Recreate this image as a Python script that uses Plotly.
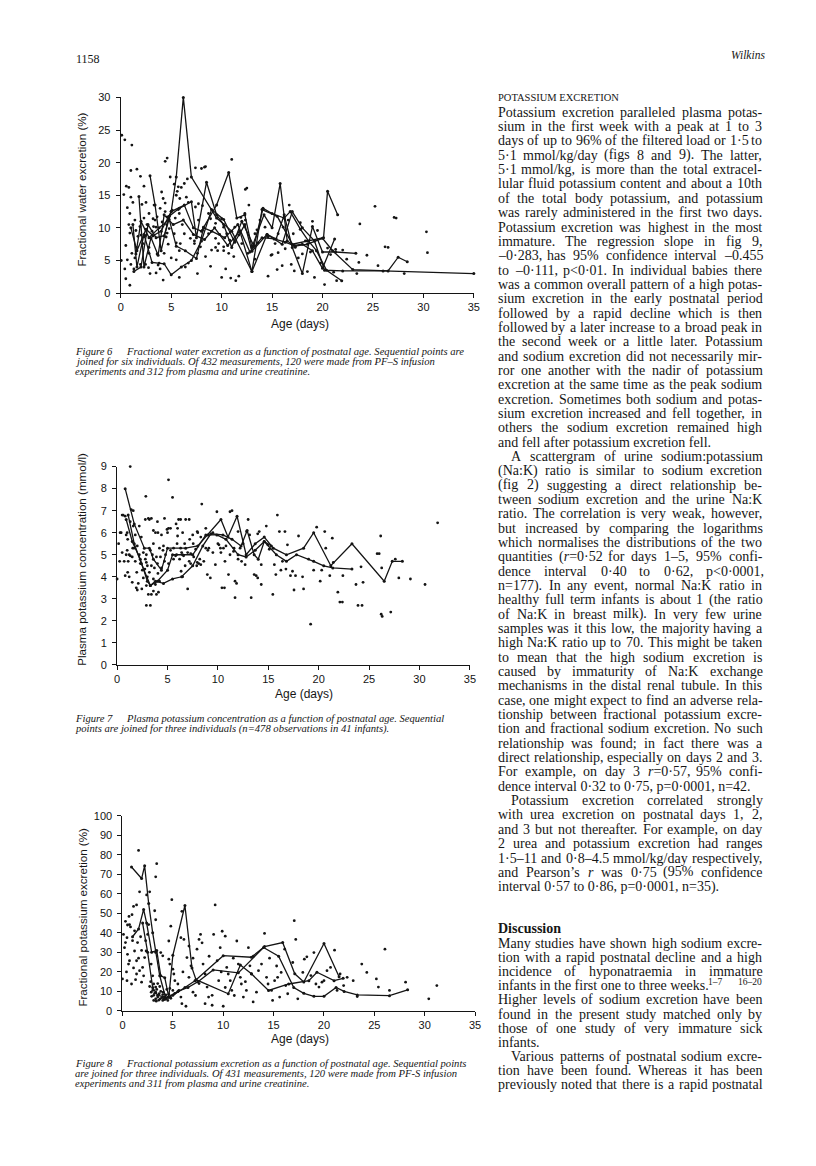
import re
import plotly.graph_objects as go

W, H = 816, 1166

# ---------------- DATA ----------------
# Figure 6: fractional water excretion (%) vs age (days)
fig6_points = [
    (0.1,24.2),(0.4,23.5),(1.1,22.7),(0.55,16.4),(0.3,15.1),(1.0,18.8),(1.6,19.0),(1.95,17.9),(2.3,16.4),
    (4.4,20.2),(4.6,20.7),(4.9,17.8),(7.4,19.2),(8.4,19.4),(11.0,20.5),(12.35,15.9),(12.5,16.1),(12.7,13.5),
    (16.7,13.5),(25.2,13.3),(23.7,10.6),(27.1,11.6),(27.3,11.5),(30.3,9.4),(30.4,6.2),(26.2,7.1),(26.5,7.0),
    (24.4,5.8),(23.6,4.7),(25.5,4.2),(23.4,3.0),(28.1,3.0),(22.4,5.2),(20.2,1.3),(21.1,3.2),(19.2,2.4),
    (18.5,3.3),(19.8,4.6),(20.8,5.9),(21.3,6.7),(21.4,1.9),(17.3,7.0),(17.2,3.4),(16.0,4.2),(15.5,3.6),
    (15.6,6.2),(14.9,5.8),(14.6,2.6),(13.6,7.7),(13.5,9.7),(13.3,5.2),(12.35,11.2),(11.4,1.9),(11.7,2.6),
    (10.9,2.3),(10.0,2.4),(10.4,3.7),(9.6,6.5),(9.4,7.0),(10.2,6.5),(8.9,4.1),(8.1,9.6),(7.9,7.1),(7.6,3.0),
    (7.3,8.0),(6.4,4.0),(6.7,4.6),(6.6,17.5),(6.3,16.8),(5.7,16.3),(5.85,14.5),(5.5,15.0),(5.7,12.8),
    (5.4,11.5),(5.3,9.1),(5.5,7.7),(5.8,6.5),(5.8,2.4),(5.0,5.4),(4.7,7.5),(4.6,9.2),(4.55,10.5),(4.4,12.5),
    (4.4,13.8),(4.2,14.5),(4.05,15.5),(3.9,13.0),(3.6,11.7),(3.4,11.2),(3.25,10.2),(3.1,9.5),(3.3,13.5),
    (3.6,6.0),(3.7,4.3),(3.9,3.7),(4.2,2.0),(2.9,3.0),(2.8,7.0),(2.6,10.5),(2.45,8.8),(2.3,11.5),(2.1,13.6),
    (1.9,10.2),(1.7,8.7),(1.55,7.0),(1.4,5.4),(1.3,3.7),(1.1,6.1),(0.9,9.2),(0.8,10.5),(0.65,13.1),(0.5,7.3),
    (0.4,3.7),(0.5,2.2),(0.9,1.2),(0.05,5.0),(0.65,5.1),(1.0,4.4),(1.95,4.4),(2.45,4.4),(2.75,3.9),
    (8.0,19.1),(8.3,19.3),(5.3,16.7),(5.6,15.6),(6.0,16.2),(6.5,14.7),(6.7,13.9),(7.4,13.2),(7.7,13.7),
    (8.1,13.4),(8.7,12.2),(8.9,11.4),(9.4,10.7),(10.0,11.4),(10.2,10.1),(10.5,9.1),(10.8,8.1),(11.3,10.1),
    (11.7,8.9),(12.0,7.6),(12.6,6.1),(13.3,9.1),(13.8,11.2),(14.3,10.1),(14.6,8.6),(15.0,5.9),(15.3,7.6),
    (15.6,9.1),(16.1,10.1),(16.6,11.2),(17.1,9.1),(6.9,8.4),(7.3,7.6),(5.9,7.6),(6.3,9.1),(4.8,9.9),(4.5,8.6),
    (4.3,6.1),(5.5,5.1),(3.8,4.6),(3.5,3.1),(2.8,6.1),(2.2,7.6),(2.0,8.9),(1.5,9.6),(1.4,11.2),(0.9,12.2),
    (1.2,13.9),(1.0,14.7),(0.8,16.2),(2.5,13.9),(2.8,12.2),(3.2,11.4),(3.5,10.1),(4.1,10.9),(4.6,11.7),
    (5.1,12.7),(5.8,12.2),(7.7,11.2),(8.2,10.1),(8.7,9.1),(9.4,8.4),(9.7,7.6),(10.2,7.1),(10.7,6.1),(11.2,5.6),
    (9.0,6.6),(8.4,5.6),(7.6,6.1),(17.8,10.8),(18.3,8.0),(18.8,6.3),(19.5,9.6),(19.0,11.0),(20.5,6.9),
    (17.6,5.4),(16.3,6.8),(22.0,6.6),(16.9,4.4),(18.0,6.0),(12.3,12.2),(11.9,11.6),(9.8,9.0),(6.1,10.5),
]
# six individuals joined (Figure 6)
fw1_x = [1.0,1.6,2.5,3.2,4.0,5.0,5.5,6.2,7.0,9.5,11.0,13.0,14.0,15.5,17.0,18.5,20.1,20.5,21.5]
fw1_y = [10.0,6.5,9.8,8.8,9.5,12.5,17.8,30.0,17.8,11.5,9.5,3.3,12.8,11.8,7.5,8.0,8.5,15.6,12.0]
fw2_x = [1.3,2.0,2.7,3.5,4.3,5.0,6.3,7.2,8.0,9.5,10.7,11.5,12.3,13.0,14.2,15.0,15.8,16.5,17.2,18.0,19.0,20.0,21.2]
fw2_y = [3.3,4.0,10.5,8.5,8.8,12.5,13.5,10.0,9.5,13.5,18.5,11.5,12.0,7.0,12.0,10.0,16.8,8.0,7.3,7.5,6.5,3.8,8.3]
fw3_x = [2.9,3.4,4.0,4.8,5.8,7.0,7.5,8.5,9.5,10.2,11.0,12.0,13.2,14.1,15.0,16.2,16.8,17.8,18.6,19.4,20.4,21.9]
fw3_y = [18.0,13.5,6.5,11.8,13.0,14.0,8.5,17.0,12.0,10.5,7.0,11.0,7.2,13.0,12.2,11.5,12.5,9.8,8.0,6.5,3.5,1.9]
fw4_x = [1.2,1.6,2.3,3.1,4.3,5.0,6.0,7.0,8.0,9.0,10.2,11.3,12.3,13.0,14.5,15.4,16.2,17.0,18.0,19.0,20.0,21.3,23.3]
fw4_y = [10.5,4.0,9.0,4.7,4.5,2.8,4.0,5.0,8.0,12.8,11.3,7.8,10.5,6.4,9.0,8.3,12.0,7.0,3.0,10.2,6.3,6.3,6.1]
fw5_x = [1.5,2.0,2.8,3.8,4.8,5.5,6.4,7.5,8.2,9.0,10.3,11.6,12.8,14.0,15.2,16.3,17.3,18.5,20.0,21.0,23.0,26.5,27.5,28.4]
fw5_y = [6.0,11.0,8.5,10.0,11.3,7.2,6.5,5.3,10.0,9.5,8.5,10.5,6.3,8.5,8.3,7.8,7.2,7.5,8.4,6.5,3.6,3.4,5.5,4.8]
fw6_x = [1.8,2.3,3.0,3.7,4.3,5.2,6.2,7.2,8.3,9.3,10.6,11.8,13.0,14.5,16.0,17.0,18.0,19.2,20.2,22.0,26.0,35.0]
fw6_y = [14.8,4.0,8.5,5.8,12.0,10.5,11.2,9.0,8.2,10.0,7.3,9.5,3.3,9.0,7.5,12.5,10.0,8.0,3.5,3.4,3.4,3.0]

# Figure 7: plasma potassium concentration (mmol/l) vs age (days)
fig7_points = [
    (1.3,9.0),(0.0,3.9),(0.15,5.5),(0.4,6.0),(0.6,6.8),(0.8,6.75),(1.0,6.0),(1.05,5.7),(0.9,5.0),(0.7,4.7),
    (0.5,5.1),(0.25,4.7),(1.1,4.7),(1.3,4.95),(1.05,4.2),(0.8,4.05),(1.5,3.75),(1.4,7.05),(1.6,6.3),(1.8,5.9),
    (1.55,5.3),(1.8,4.7),(1.95,4.2),(2.1,3.7),(1.9,3.5),(2.45,3.45),(2.6,3.95),(2.75,4.35),(2.9,4.65),(2.9,5.0),
    (3.1,6.65),(2.85,7.65),(3.4,6.65),(2.9,2.7),(3.3,2.7),(3.1,3.2),(3.6,3.35),(3.8,3.65),(3.9,3.2),(4.2,3.8),
    (4.05,4.15),(4.4,4.4),(4.7,4.7),(4.55,5.2),(4.2,5.3),(3.9,4.9),(3.6,5.5),(3.6,6.1),(4.05,6.0),(4.0,6.5),
    (4.7,6.65),(4.95,6.15),(5.1,6.2),(5.1,8.4),(5.5,7.6),(5.6,5.3),(5.8,4.95),(5.95,5.5),(5.85,6.4),(6.1,6.6),
    (6.3,6.6),(6.8,6.6),(7.15,6.6),(6.0,5.85),(6.3,5.3),(6.6,4.95),(6.75,4.5),(6.35,4.25),(6.5,4.0),(7.0,3.45),
    (7.15,4.7),(7.3,5.05),(7.55,5.5),(7.8,5.25),(7.95,4.65),(8.1,4.6),(8.3,4.55),(8.4,7.3),(7.95,6.05),(8.3,5.8),
    (8.8,5.3),(9.1,5.3),(8.95,4.1),(9.25,3.95),(9.75,4.55),(9.9,6.95),(10.1,5.45),(10.25,5.3),(10.55,5.3),
    (10.4,3.5),(10.65,3.5),(10.7,4.7),(11.05,4.1),(11.2,6.95),(11.4,7.0),(11.55,5.15),(11.7,3.8),(11.7,3.05),
    (11.85,3.7),(12.0,6.05),(12.2,5.3),(12.35,4.7),(12.5,5.5),(12.7,4.55),(12.85,6.05),(13.0,6.6),(13.15,5.9),
    (13.3,3.05),(13.6,4.1),(13.8,4.05),(13.95,3.95),(13.95,5.95),(14.1,6.05),(14.3,3.65),(14.3,4.55),(14.8,6.3),
    (14.95,5.45),(15.1,5.25),(15.45,3.2),(15.6,4.55),(15.75,4.1),(15.9,6.8),(16.1,6.05),(16.25,4.3),(16.4,4.7),
    (16.65,6.05),(16.75,4.35),(16.9,5.45),(17.2,4.05),(17.4,4.25),(17.55,3.4),(17.7,4.05),(18.0,5.85),(18.4,4.0),
    (18.5,3.45),(19.0,4.8),(19.2,1.85),(19.5,4.3),(19.8,6.25),(20.15,3.8),(20.3,4.3),(20.6,6.05),(20.7,5.3),
    (21.1,4.05),(21.35,5.75),(21.45,4.65),(21.9,3.3),(22.1,2.85),(22.35,2.85),(22.4,4.05),(23.7,3.65),(23.9,2.7),
    (24.2,4.45),(24.4,3.75),(24.3,2.7),(25.8,5.05),(26.0,5.05),(26.2,2.3),(26.3,2.2),(26.15,5.85),(26.25,4.4),
    (27.15,2.4),(27.6,4.8),(27.95,3.95),(29.1,3.9),(30.55,3.65),(31.8,6.45),
    (1.0,5.2),(1.2,5.0),(1.5,4.9),(1.7,5.3),(2.0,5.4),(2.2,5.0),(2.3,4.6),(2.5,4.3),(2.6,5.1),(2.8,4.8),
    (3.0,4.5),(3.2,4.2),(3.4,4.5),(3.5,5.0),(3.7,4.4),(4.0,4.6),(4.3,4.9),(4.6,5.4),(4.8,5.0),(5.1,4.6),
    (5.3,5.2),(5.6,4.8),(5.9,5.0),(6.2,4.8),(6.4,5.1),(6.7,5.5),(7.0,5.1),(7.3,4.6),(7.6,4.9),(7.9,4.5),
    (8.2,4.8),(8.6,4.7),(9.0,5.2),(9.5,5.1),(10.0,5.5),(10.3,5.1),(10.8,5.4),(11.2,5.0),(11.6,5.3),(12.0,4.8),
    (1.3,6.5),(1.6,7.0),(0.9,5.9),(2.2,6.3),(2.4,5.8),(3.3,5.2),(3.8,6.0),(4.4,5.9),(5.0,6.0),(5.3,6.2),
    (6.0,6.2),(6.5,6.0),(7.2,5.7),(7.5,5.9),(8.0,6.0),(8.8,6.2),(9.5,6.0),(2.9,3.6),(3.4,3.2),(4.1,3.3),
    (3.0,4.0),(3.6,3.9),(0.3,6.0),(0.5,6.8),(2.8,6.6),(3.2,6.6),(1.2,4.0),(2.0,3.4),
]
# three individuals joined (Figure 7)
pk1_x = [0.8,1.7,2.7,3.2,3.6,4.4,5.0,6.8,8.0,9.0,10.3,11.0,11.9,12.8,13.7,14.6,15.5,16.8,18.5,19.5,21.2,23.3,26.5,27.3,28.3]
pk1_y = [8.0,6.4,5.3,5.3,4.8,4.3,5.3,5.3,5.4,5.9,6.6,5.8,6.75,5.0,5.5,5.8,5.3,5.0,5.3,6.0,4.5,5.5,3.8,4.7,4.7]
pk2_x = [0.9,1.5,2.3,3.0,3.3,4.0,5.0,5.5,6.5,7.5,8.8,9.9,10.8,12.0,12.8,13.7,14.6,15.8,16.8,17.8,19.5,20.5,21.4,23.3]
pk2_y = [6.6,5.6,4.8,3.8,3.6,3.8,4.3,5.0,5.0,5.0,5.9,5.9,5.7,5.0,4.9,5.2,5.6,5.0,4.7,5.0,4.7,4.5,4.4,4.35]
pk3_x = [1.1,1.7,2.4,3.3,3.8,4.6,5.5,6.4,7.5,8.5,9.3,10.5,11.4,12.3,12.9,13.6,14.0,14.6,15.3]
pk3_y = [6.8,5.5,4.6,3.6,3.8,3.7,3.9,4.0,4.5,5.4,5.95,5.9,5.7,5.4,6.1,5.0,4.8,5.6,5.4]

# Figure 8: fractional potassium excretion (%) vs age (days)
fig8_points = [
    (1.6,82.2),(3.4,75.4),(3.3,68.7),(2.7,61.0),(2.4,59.4),(1.7,61.0),(1.4,54.3),(1.1,53.5),(0.95,49.3),
    (0.65,48.4),(0.3,45.9),(0.7,44.2),(0.45,37.5),(0.1,39.2),(0.2,32.4),(0.5,29.0),(0.7,25.7),(0.0,16.4),
    (0.45,15.5),(0.9,13.8),(1.2,30.7),(1.4,25.7),(1.4,18.9),(1.7,20.6),(1.9,14.7),(2.0,22.3),(2.2,27.3),
    (2.35,30.7),(2.5,39.2),(2.6,44.2),(2.85,24.0),(3.0,18.0),(3.1,13.8),(3.3,12.2),(2.7,12.5),(3.3,9.6),
    (3.5,7.1),(3.65,8.8),(3.75,6.2),(4.0,8.4),(4.05,9.6),(4.15,7.1),(4.0,5.4),(4.3,6.2),(4.5,5.4),(3.1,5.4),
    (3.3,6.2),(2.85,9.6),(3.8,29.9),(4.0,28.2),(3.2,51.3),(3.3,46.7),(4.6,26.5),(4.7,24.0),(4.8,43.4),
    (4.6,35.8),(4.9,57.0),(5.0,21.4),(5.1,18.9),(5.2,15.5),(5.5,13.8),(5.0,10.5),(5.6,10.5),(5.8,7.1),
    (5.9,3.7),(6.3,2.4),(5.9,51.0),(5.8,37.5),(6.1,36.6),(6.4,27.3),(6.6,33.2),(6.8,23.1),(6.6,17.2),
    (7.0,9.6),(7.25,7.9),(7.4,31.6),(7.6,36.6),(7.75,39.2),(7.9,34.9),(8.0,24.0),(8.2,18.9),(8.4,12.2),
    (8.55,7.1),(8.2,3.7),(8.9,2.9),(9.05,39.2),(9.2,54.3),(9.4,25.7),(9.55,15.5),(9.9,40.8),(9.7,32.4),
    (10.0,2.4),(10.2,38.3),(10.35,22.3),(10.5,18.9),(10.7,15.5),(10.85,10.5),(11.1,7.9),(11.35,35.8),
    (11.5,24.0),(11.7,17.2),(11.8,13.8),(12.0,7.1),(12.3,10.5),(12.5,32.4),(12.65,23.1),(12.8,18.9),
    (12.97,4.6),(13.3,9.6),(13.5,20.6),(13.8,24.0),(14.1,39.7),(14.3,17.2),(14.45,13.8),(14.8,10.5),
    (14.9,5.4),(15.1,15.5),(15.4,17.2),(15.6,7.1),(15.75,19.7),(16.1,31.6),(16.2,13.0),(16.4,8.8),
    (16.9,24.8),(17.05,46.2),(17.2,36.6),(17.4,6.2),(17.9,19.7),(18.05,26.5),(18.3,27.7),(18.7,18.1),
    (19.0,29.9),(19.2,13.8),(19.5,12.2),(19.8,14.7),(20.0,15.5),(20.3,20.6),(20.65,22.3),(21.05,31.1),
    (21.3,10.5),(21.6,18.9),(21.95,13.0),(22.3,17.2),(22.9,15.5),(23.3,7.4),(23.75,24.0),(24.25,19.7),
    (25.2,16.4),(25.4,12.2),(26.05,31.6),(26.5,10.5),(28.1,14.7),(30.4,6.2),(31.2,13.0),
    (3.2,9.0),(3.4,11.0),(3.6,5.5),(3.8,10.0),(3.9,6.8),(4.1,6.2),(4.3,8.2),(4.4,11.0),(3.5,14.0),(3.0,10.5),
    (2.9,7.5),(3.7,12.5),(4.2,5.8),(4.6,8.5),(4.8,6.5),(5.2,9.0),(3.1,8.0),(2.8,15.0),(3.35,5.0),(4.7,11.5),
    (0.3,35.0),(0.5,44.0),(0.8,43.0),(1.0,36.0),(1.2,41.0),(1.5,35.0),(1.8,38.0),(0.6,24.0),(1.1,22.0),
    (1.6,27.0),(0.4,20.0),(1.9,31.0),(2.3,36.0),(2.1,18.0),(1.3,16.0),(6.0,20.0),(7.0,27.0),(8.6,28.0),
    (9.8,20.0),(11.0,27.0),(12.2,15.0),(13.0,28.0),(14.6,27.0),(15.3,23.0),(10.2,12.0),(8.9,8.0),(7.6,14.0),
]
# three individuals joined (Figure 8)
fk1_x = [0.9,1.9,2.2,2.6,3.0,3.3,3.7,4.3,5.0,6.2,7.2,10.0,12.8,14.1,15.9,17.1,18.0,20.0,21.5]
fk1_y = [73.7,67.8,74.3,55.0,40.0,30.0,18.0,6.5,8.0,12.0,15.5,28.3,27.5,33.0,35.0,19.0,14.8,34.5,17.5]
fk2_x = [1.0,1.6,2.1,2.4,2.9,3.4,3.8,4.2,4.6,5.0,6.2,6.9,7.3,10.5,11.7,12.8,14.5,16.5,18.5,19.3,21.0,21.9]
fk2_y = [38.0,42.0,52.0,45.0,30.0,31.0,18.0,17.0,7.0,28.5,54.0,22.0,16.0,8.8,23.5,19.0,10.5,13.8,15.5,19.8,15.5,16.7]
fk3_x = [2.0,2.5,3.0,3.5,4.5,5.5,6.5,7.5,9.0,11.5,14.0,15.5,17.0,18.0,19.0,20.0,21.2,22.0,23.3,26.5,28.3]
fk3_y = [45.0,30.0,12.0,8.0,7.0,10.0,12.0,15.0,21.0,19.5,32.5,28.0,12.0,9.0,7.5,7.5,12.0,10.0,8.2,7.8,10.8]

# axis ticks
age_ticks = [0, 5, 10, 15, 20, 25, 30, 35]
fw_ticks = [0, 5, 10, 15, 20, 25, 30]
pk_ticks = [0, 1, 2, 3, 4, 5, 6, 7, 8, 9]
fk_ticks = [0, 10, 20, 30, 40, 50, 60, 70, 80, 90, 100]

# ---------------- TEXT ----------------
para1 = [
    "Potassium excretion paralleled plasma potas-",
    "sium in the first week with a peak at 1 to 3",
    "days of up to 96% of the filtered load or 1·5 to",
    "5·1 mmol/kg/day (figs 8 and 9). The latter,",
    "5·1 mmol/kg, is more than the total extracel-",
    "lular fluid potassium content and about a 10th",
    "of the total body potassium, and potassium",
    "was rarely administered in the first two days.",
    "Potassium excretion was highest in the most",
    "immature. The regression slope in fig 9,",
    "–0·283, has 95% confidence interval –0.455",
    "to –0·111, p&lt;0·01. In individual babies there",
    "was a common overall pattern of a high potas-",
    "sium excretion in the early postnatal period",
    "followed by a rapid decline which is then",
    "followed by a later increase to a broad peak in",
    "the second week or a little later. Potassium",
    "and sodium excretion did not necessarily mir-",
    "ror one another with the nadir of potassium",
    "excretion at the same time as the peak sodium",
    "excretion. Sometimes both sodium and potas-",
    "sium excretion increased and fell together, in",
    "others the sodium excretion remained high",
    "and fell after potassium excretion fell.",
]
para2 = [
    "A scattergram of urine sodium:potassium",
    "(Na:K) ratio is similar to sodium excretion",
    "(fig 2) suggesting a direct relationship be-",
    "tween sodium excretion and the urine Na:K",
    "ratio. The correlation is very weak, however,",
    "but increased by comparing the logarithms",
    "which normalises the distributions of the two",
    "quantities (<i>r</i>=0·52 for days 1–5, 95% confi-",
    "dence interval 0·40 to 0·62, p&lt;0·0001,",
    "n=177). In any event, normal Na:K ratio in",
    "healthy full term infants is about 1 (the ratio",
    "of Na:K in breast milk). In very few urine",
    "samples was it this low, the majority having a",
    "high Na:K ratio up to 70. This might be taken",
    "to mean that the high sodium excretion is",
    "caused by immaturity of Na:K exchange",
    "mechanisms in the distal renal tubule. In this",
    "case, one might expect to find an adverse rela-",
    "tionship between fractional potassium excre-",
    "tion and fractional sodium excretion. No such",
    "relationship was found; in fact there was a",
    "direct relationship, especially on days 2 and 3.",
    "For example, on day 3 <i>r</i>=0·57, 95% confi-",
    "dence interval 0·32 to 0·75, p=0·0001, n=42.",
]
para3 = [
    "Potassium excretion correlated strongly",
    "with urea excretion on postnatal days 1, 2,",
    "and 3 but not thereafter. For example, on day",
    "2 urea and potassium excretion had ranges",
    "1·5–11 and 0·8–4.5 mmol/kg/day respectively,",
    "and Pearson’s <i>r</i> was 0·75 (95% confidence",
    "interval 0·57 to 0·86, p=0·0001, n=35).",
]
disc1 = [
    "Many studies have shown high sodium excre-",
    "tion with a rapid postnatal decline and a high",
    "incidence of hyponatraemia in immature",
    "infants in the first one to three weeks.",
    "Higher levels of sodium excretion have been",
    "found in the present study matched only by",
    "those of one study of very immature sick",
    "infants.",
]
disc_refs = ["1–7", "16–20"]
disc2 = [
    "Various patterns of postnatal sodium excre-",
    "tion have been found. Whereas it has been",
    "previously noted that there is a rapid postnatal",
]

cap6 = ["Fractional water excretion as a function of postnatal age. Sequential points are",
        "joined for six individuals. Of 432 measurements, 120 were made from PF–S infusion",
        "experiments and 312 from plasma and urine creatinine."]
cap7 = ["Plasma potassium concentration as a function of postnatal age. Sequential",
        "points are joined for three individuals (n=478 observations in 41 infants)."]
cap8 = ["Fractional potassium excretion as a function of postnatal age. Sequential points",
        "are joined for three individuals. Of 431 measurements, 120 were made from PF-S infusion",
        "experiments and 311 from plasma and urine creatinine."]

# ---------------- HELPERS ----------------
TIMES = {' ':250,'!':333,'%':833,'&':778,'(':333,')':333,',':250,'-':333,'.':250,'/':278,':':278,';':278,
         '<':564,'=':564,'>':564,'?':444,'A':722,'B':667,'C':667,'D':722,'E':611,'F':556,'G':722,'H':722,
         'I':333,'J':389,'K':722,'L':611,'M':889,'N':722,'O':722,'P':556,'Q':722,'R':667,'S':556,'T':611,
         'U':722,'V':722,'W':944,'X':722,'Y':722,'Z':611,'a':444,'b':500,'c':444,'d':500,'e':444,'f':333,
         'g':500,'h':500,'i':278,'j':278,'k':500,'l':278,'m':778,'n':500,'o':500,'p':500,'q':500,'r':333,
         's':389,'t':278,'u':500,'v':500,'w':722,'x':500,'y':500,'z':444,'·':250,'–':500,'’':333}
for d in '0123456789':
    TIMES[d] = 500

def tw(s, fs):
    plain = re.sub(r'<[^>]+>', '', s).replace('&lt;', '<')
    return sum(TIMES.get(c, 500) for c in plain) * fs / 1000.0

annots = []
TXT = '#161616'

def add(x, y, text, size, family='Liberation Serif', anchor='left', angle=0, color=TXT):
    annots.append(dict(x=x / W, y=1 - y / H, xref='paper', yref='paper', xanchor=anchor,
                       yanchor='middle', text=text, showarrow=False, textangle=angle,
                       borderpad=0, borderwidth=0,
                       font=dict(family=family, size=size, color=color)))

FS = 14
XL, XR = 492.3, 759.3
INDENT = 13.7

def place_line(text, y, indent, justify):
    x0 = XL + (INDENT if indent else 0)
    if not justify:
        add(x0, y, text, FS)
        return
    words = [w for w in text.split(' ') if w]
    widths = [tw(w, FS) for w in words]
    gap = (XR - x0 - sum(widths)) / max(len(words) - 1, 1)
    x = x0
    for w, wd in zip(words, widths):
        add(x, y, w, FS)
        x += wd + gap

def place_para(lines, y0, step, indent_first, last_ragged=True, ragged=()):
    for i, ln in enumerate(lines):
        last = (i == len(lines) - 1)
        just = not (last and last_ragged) and i not in ragged
        place_line(ln, y0 + step * i, indent_first and i == 0, just)

STEP = 14.49
add(XL, 84, "POTASSIUM EXCRETION", 10.5)
place_para(para1, 99.3, STEP, False)
place_para(para2, 99.3 + STEP * 24, STEP, True)
place_para(para3, 99.3 + STEP * 48, STEP, True)
add(XL, 924.3, "<b>Discussion</b>", FS)
DSTEP = 14.3
place_para(disc1, 939, DSTEP, False, ragged=(3,))
sup_x = XL + tw(disc1[3], FS) + 2
add(sup_x, 939 + DSTEP * 3 - 4, disc_refs[0], 9.5)
add(XR, 939 + DSTEP * 3 - 4, disc_refs[1], 9.5, anchor='right')
place_para(disc2, 939 + DSTEP * 8, DSTEP, True, last_ragged=False)

# header
add(66, 45, "1158", 12)
add(762, 41, "<i>Wilkins</i>", 11.5, anchor='right')

# captions
CFS = 10.6
def caption(num, lines, y0, step):
    add(65, y0, "<i>Figure %d</i>" % num, CFS)
    for i, ln in enumerate(lines):
        add(116.7 if i == 0 else 65, y0 + step * i, "<i>%s</i>" % ln, CFS)

caption(6, cap6, 340.7, 10.2)
caption(7, cap7, 712.3, 10.3)
caption(8, cap8, 1060.5, 10.2)

# axis titles
SANS = 'Liberation Sans'
add(71.7, 177.5, "Fractional water excretion (%)", 11.6, SANS, 'center', -90)
add(71.7, 550.5, "Plasma potassium concentration (mmol/l)", 11.6, SANS, 'center', -90)
add(72.3, 912.5, "Fractional potassium excretion (%)", 11.6, SANS, 'center', -90)
add(292, 313, "Age (days)", 12, SANS, 'center')
add(296, 687.3, "Age (days)", 12, SANS, 'center')
add(292.5, 1036, "Age (days)", 12, SANS, 'center')

# ---------------- FIGURE ----------------
fig = go.Figure()
INK = '#141414'

def scatter(points, xa, ya):
    fig.add_trace(go.Scatter(x=[p[0] for p in points], y=[p[1] for p in points], mode='markers',
                             xaxis=xa, yaxis=ya, cliponaxis=False, hoverinfo='skip',
                             marker=dict(size=2.8, color=INK, line=dict(width=0))))

def person(xs, ys, xa, ya):
    fig.add_trace(go.Scatter(x=xs, y=ys, mode='lines+markers', xaxis=xa, yaxis=ya, cliponaxis=False,
                             hoverinfo='skip', line=dict(color=INK, width=1.3),
                             marker=dict(size=3, color=INK)))

scatter(fig6_points, 'x', 'y')
for xs, ys in [(fw1_x, fw1_y), (fw2_x, fw2_y), (fw3_x, fw3_y), (fw4_x, fw4_y), (fw5_x, fw5_y), (fw6_x, fw6_y)]:
    person(xs, ys, 'x', 'y')
scatter(fig7_points, 'x2', 'y2')
for xs, ys in [(pk1_x, pk1_y), (pk2_x, pk2_y), (pk3_x, pk3_y)]:
    person(xs, ys, 'x2', 'y2')
scatter(fig8_points, 'x3', 'y3')
for xs, ys in [(fk1_x, fk1_y), (fk2_x, fk2_y), (fk3_x, fk3_y)]:
    person(xs, ys, 'x3', 'y3')

def xdom(a, b):
    return [a / W, b / W]

def ydom(bottom_px, top_px):
    return [1 - bottom_px / H, 1 - top_px / H]

axis_common = dict(showline=True, linecolor=INK, linewidth=1.2, ticks='outside', ticklen=4,
                   tickwidth=1.1, tickcolor=INK, showgrid=False, zeroline=False,
                   tickfont=dict(family=SANS, size=11, color=INK), fixedrange=True)

fig.update_layout(
    width=W, height=H, margin=dict(l=0, r=0, t=0, b=0),
    paper_bgcolor='white', plot_bgcolor='rgba(0,0,0,0)', showlegend=False,
    xaxis=dict(domain=xdom(111, 468), range=[0, 35], tickvals=age_ticks, anchor='y', **axis_common),
    yaxis=dict(domain=ydom(282, 84.3), range=[0, 30], tickvals=fw_ticks, anchor='x', ticklabelstandoff=3, **axis_common),
    xaxis2=dict(domain=xdom(107.3, 464), range=[0, 35], tickvals=age_ticks, anchor='y2', **axis_common),
    yaxis2=dict(domain=ydom(657.7, 457.3), range=[0, 9], tickvals=pk_ticks, anchor='x2', ticklabelstandoff=3, **axis_common),
    xaxis3=dict(domain=xdom(112.7, 469.3), range=[0, 35], tickvals=age_ticks, anchor='y3', **axis_common),
    yaxis3=dict(domain=ydom(1007.3, 810), range=[0, 100], tickvals=fk_ticks, anchor='x3', ticklabelstandoff=3, **axis_common),
    annotations=annots,
)

fig.write_html("out.html")
